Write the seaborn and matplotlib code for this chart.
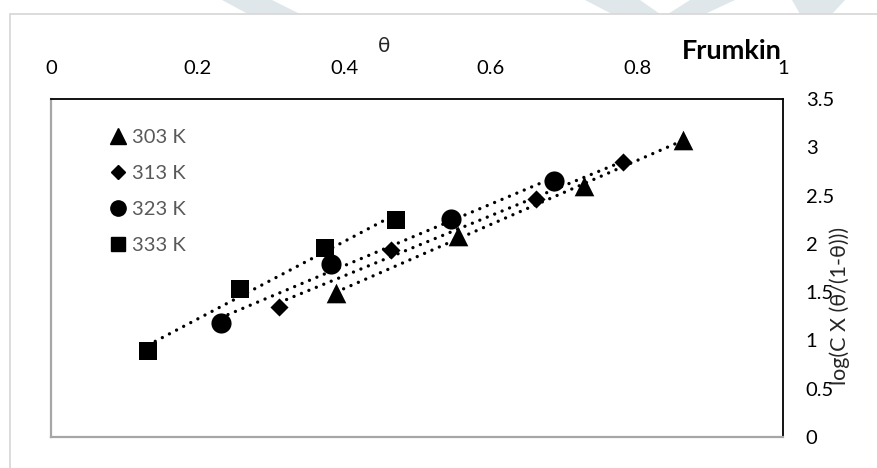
import numpy as np
import pandas as pd
import matplotlib
matplotlib.use("Agg")
import matplotlib.pyplot as plt
from matplotlib.lines import Line2D
from matplotlib.patches import Polygon
import seaborn as sns

# Frumkin isotherm data: surface coverage vs log(C * theta/(1-theta))
series = ["303 K", "313 K", "323 K", "333 K"]
theta_303 = [0.389, 0.555, 0.728, 0.863]
logc_303 = [1.49, 2.08, 2.60, 3.08]
theta_313 = [0.311, 0.464, 0.662, 0.781]
logc_313 = [1.35, 1.94, 2.46, 2.85]
theta_323 = [0.231, 0.382, 0.546, 0.687]
logc_323 = [1.18, 1.79, 2.26, 2.65]
theta_333 = [0.132, 0.257, 0.373, 0.471]
logc_333 = [0.89, 1.53, 1.96, 2.25]
x_ticks = [0, 0.2, 0.4, 0.6, 0.8, 1]
x_tick_labels = ["0", "0.2", "0.4", "0.6", "0.8", "1"]
y_ticks = [0, 0.5, 1, 1.5, 2, 2.5, 3, 3.5]
y_tick_labels = ["0", "0.5", "1", "1.5", "2", "2.5", "3", "3.5"]

df = pd.DataFrame({
    "theta": theta_303 + theta_313 + theta_323 + theta_333,
    "logc": logc_303 + logc_313 + logc_323 + logc_333,
    "T": sum([[s] * 4 for s in series], []),
})

sns.set_theme(style="white")
plt.rcParams["font.family"] = ["Lato", "DejaVu Sans"]

W, H = 878, 468
fig = plt.figure(figsize=(W / 100, H / 100), dpi=100)
fig.patch.set_facecolor("white")

# faint decorative shapes along the very top edge
wm = "#dfe7eb"
for pts in [
    [(222, 0), (272, 0), (300, 14), (248, 14)],
    [(585, 0), (640, 0), (660, 14), (612, 14)],
    [(690, 0), (735, 0), (705, 14), (668, 14)],
    [(792, 0), (845, 0), (832, 14), (800, 14)],
]:
    fig.add_artist(Polygon([(x / W, 1 - y / H) for x, y in pts], closed=True,
                           transform=fig.transFigure, facecolor=wm,
                           edgecolor="none", zorder=0))

# outer chart-area frame
fig.add_artist(Line2D([10 / W, 10 / W], [0, 1 - 14 / H], transform=fig.transFigure,
                      color="#d9d9d9", lw=1.3))
fig.add_artist(Line2D([10 / W, 1], [1 - 14 / H, 1 - 14 / H], transform=fig.transFigure,
                      color="#d9d9d9", lw=1.3))

left, right, top, bottom = 51.5, 783.5, 99, 437
ax = fig.add_axes([left / W, 1 - bottom / H, (right - left) / W, (bottom - top) / H])
ax.set_facecolor("white")

markers = {"303 K": "^", "313 K": "D", "323 K": "o", "333 K": "s"}
sizes = {"303 K": 200, "313 K": 85, "323 K": 210, "333 K": 150}

for s in series:
    sub = df[df["T"] == s]
    # linear trendline over the data range
    k, b = np.polyfit(sub["theta"], sub["logc"], 1)
    xs = np.array([sub["theta"].min(), sub["theta"].max()])
    ax.plot(xs, k * xs + b, color="black", lw=2.4,
            linestyle=(0, (0.01, 2.4)), dash_capstyle="round", zorder=2)
    sns.scatterplot(data=sub, x="theta", y="logc", marker=markers[s], s=sizes[s],
                    color="black", edgecolor="black", linewidth=0, ax=ax,
                    zorder=3, legend=False)

ax.set_xlim(0, 1)
ax.set_ylim(0, 3.5)
ax.set_xticks(x_ticks)
ax.set_xticklabels(x_tick_labels)
ax.set_yticks(y_ticks)
ax.set_yticklabels(y_tick_labels)
ax.xaxis.tick_top()
ax.yaxis.tick_right()
ax.tick_params(axis="x", length=0, pad=16, labelsize=14.5, labelcolor="black")
ax.tick_params(axis="y", length=0, pad=16, labelsize=14.5, labelcolor="black")

for side in ["top", "right"]:
    ax.spines[side].set_color("black")
    ax.spines[side].set_linewidth(1.3)
for side in ["left", "bottom"]:
    ax.spines[side].set_color("#a6a6a6")
    ax.spines[side].set_linewidth(1.6)

ax.set_xlabel("θ", fontsize=15)
ax.xaxis.set_label_position("top")
ax.xaxis.set_label_coords(0.455, 1.157)
ax.xaxis.label.set_verticalalignment("center")
ax.xaxis.label.set_horizontalalignment("center")

ax.set_ylabel("log(C X (θ/(1-θ)))", fontsize=15.5, rotation=90)
ax.yaxis.set_label_position("right")
ax.yaxis.set_label_coords(1.0765, 0.389)
ax.yaxis.label.set_verticalalignment("center")
ax.yaxis.label.set_horizontalalignment("center")

ax.text(0.93, 1.142, "Frumkin", transform=ax.transAxes, ha="center", va="center",
        fontsize=19.5, fontweight="bold", color="black")

leg_ms = {"303 K": 11, "313 K": 7.4, "323 K": 11, "333 K": 10.5}
handles = [Line2D([], [], linestyle="none", marker=markers[s], markersize=leg_ms[s],
                  markerfacecolor="black", markeredgecolor="black", label=s)
           for s in series]
leg = ax.legend(handles=handles, loc="upper left", bbox_to_anchor=(0.068, 0.935),
                frameon=False, fontsize=14.5, labelspacing=0.93, handlelength=0.9,
                handletextpad=0.25, borderaxespad=0)
for t in leg.get_texts():
    t.set_color("#595959")

fig.savefig("out.png", dpi=100)
